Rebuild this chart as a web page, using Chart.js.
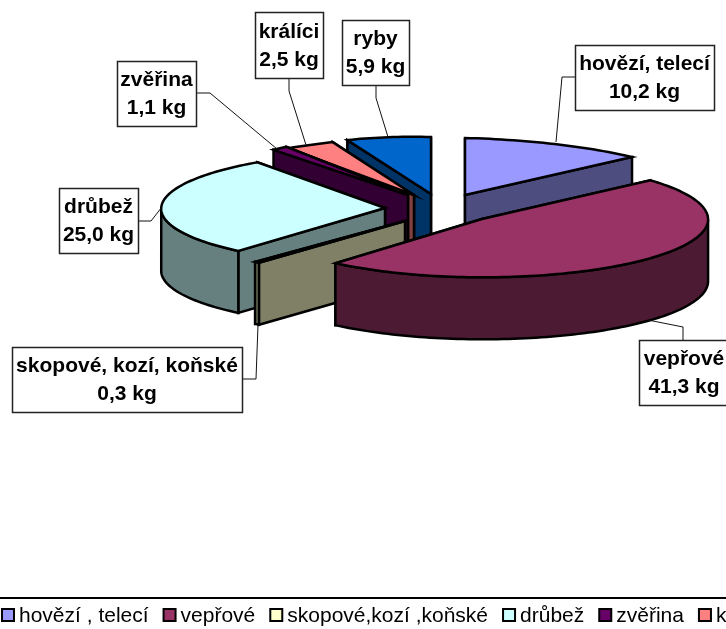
<!DOCTYPE html>
<html>
<head>
<meta charset="utf-8">
<script src="https://cdn.jsdelivr.net/npm/chart.js@4"></script>
<style>
  html, body { margin: 0; padding: 0; background: #fff; overflow: hidden; }
  canvas { display: block; }
</style>
</head>
<body>
<canvas id="chart" width="726" height="629"></canvas>
<script>
const legendNames = ['hovězí , telecí', 'vepřové', 'skopové,kozí ,koňské', 'drůbež', 'zvěřina', 'králíci', 'ryby'];
const labelNames = ['hovězí, telecí', 'vepřové', 'skopové, kozí, koňské', 'drůbež', 'zvěřina', 'králíci', 'ryby'];
const kilograms = [10.2, 41.3, 0.3, 25.0, 1.1, 2.5, 5.9];
const topColors = ['#9999FF', '#993366', '#FFFFCC', '#CCFFFF', '#660066', '#FF8080', '#0066CC'];
const sideColors = ['#4D4D80', '#4D1A33', '#808066', '#668080', '#330033', '#804040', '#003366'];

// how each flat slice is laid onto the tilted pie: apex x, y, then the 2x2 matrix a, c, b, d
const sliceFrames = [
  [465, 195, 247, 0, 6, 57],
  [482, 219, 225, -22, 6, 58],
  [405, 221, 227, -20, 6, 55],
  [385, 208, 223, -19, 4, 56],
  [408, 195, 206, 4, -1, 59.5],
  [414, 195, 263, -31, -4, 60],
  [431, 194, 201, 0, 5, 57],
];
const paintOrder = [6, 5, 4, 3, 2, 0, 1];
const pieDepth = 62;

// label boxes: x, y, w, h and the leader line that runs to the slice
const labelBoxes = [
  { box: [575, 45, 139, 65], leader: [[576, 77], [562, 77], [556, 142]] },
  { box: [639, 340, 90, 65], leader: [[683, 340], [683, 327], [648, 320]] },
  { box: [12, 347, 230, 65], leader: [[242, 379], [256, 379], [258, 325]] },
  { box: [59, 188, 79, 65], leader: [[138, 221], [151, 221], [162, 207]] },
  { box: [117, 61, 79, 65], leader: [[196, 93], [210, 93], [277, 149]] },
  { box: [255, 12, 68, 66], leader: [[289, 78], [289, 91], [306, 145]] },
  { box: [342, 20, 67, 65], leader: [[376, 85], [376, 98], [388, 137]] },
];

const labelFont = 'bold 21px "Liberation Sans", Arial, sans-serif';
const legendFont = '21px "Liberation Sans", Arial, sans-serif';

// helper to read a point on the rim of a slice
const rimPoint = (frame, t, drop) => {
  const [x, y, a, c, b, d] = frame;
  return [x + a * Math.cos(t) + c * Math.sin(t), y + b * Math.cos(t) + d * Math.sin(t) + drop];
};

const tracePath = (ctx, points, close) => {
  ctx.beginPath();
  points.forEach((p, i) => (i ? ctx.lineTo(p[0], p[1]) : ctx.moveTo(p[0], p[1])));
  if (close) ctx.closePath();
};

const rimSamples = (frame, start, end, drop) => {
  const pts = [];
  const steps = Math.max(4, Math.ceil((end - start) * 40));
  for (let i = 0; i <= steps; i++) {
    pts.push(rimPoint(frame, start + ((end - start) * i) / steps, drop));
  }
  return pts;
};

const tiltedPie = {
  id: 'tiltedPie',
  beforeDatasetsDraw(chart) {
    const ctx = chart.ctx;
    const arcs = chart.getDatasetMeta(0).data;
    ctx.save();
    ctx.lineWidth = 2.5;
    ctx.lineJoin = 'miter';
    ctx.strokeStyle = '#000';

    paintOrder.forEach(i => {
      const arc = arcs[i];
      const frame = sliceFrames[i];
      const [x, y, a, c, b, d] = frame;
      const R = arc.outerRadius;
      const apex = [x, y];
      const p0 = rimPoint(frame, arc.startAngle, 0);
      const p1 = rimPoint(frame, arc.endAngle, 0);

      // the two cut faces, farther one first
      ctx.fillStyle = sideColors[i];
      [p0, p1].sort((m, n) => m[1] - n[1]).forEach(p => {
        tracePath(ctx, [apex, p, [p[0], p[1] + pieDepth], [x, y + pieDepth]], true);
        ctx.fill();
        ctx.stroke();
      });

      // outer wall, only the part that faces the viewer
      const front = [];
      const steps = Math.ceil((arc.endAngle - arc.startAngle) * 40) + 1;
      for (let s = 0; s <= steps; s++) {
        const t = arc.startAngle + ((arc.endAngle - arc.startAngle) * s) / steps;
        if (-a * Math.sin(t) + c * Math.cos(t) < 0) front.push(t);
      }
      if (front.length > 1) {
        const from = front[0];
        const to = front[front.length - 1];
        const wall = rimSamples(frame, from, to, 0).concat(rimSamples(frame, from, to, pieDepth).reverse());
        tracePath(ctx, wall, true);
        ctx.fill();
        ctx.stroke();
      }

      // top face, the library's own arc under the tilt
      ctx.save();
      ctx.translate(x, y);
      ctx.transform(a / R, b / R, c / R, d / R, 0, 0);
      ctx.translate(-arc.x, -arc.y);
      arc.draw(ctx);
      ctx.restore();

      const outline = [apex].concat(rimSamples(frame, arc.startAngle, arc.endAngle, 0));
      tracePath(ctx, outline, true);
      ctx.stroke();
    });

    ctx.restore();
    return false;
  },
  afterDraw(chart) {
    const ctx = chart.ctx;
    ctx.save();

    // leader lines and label boxes
    labelBoxes.forEach((item, i) => {
      ctx.strokeStyle = '#111';
      ctx.lineWidth = 1;
      tracePath(ctx, item.leader, false);
      ctx.stroke();

      const [bx, by, bw, bh] = item.box;
      ctx.fillStyle = '#fff';
      ctx.fillRect(bx, by, bw, bh);
      ctx.strokeStyle = '#222';
      ctx.lineWidth = 1.5;
      ctx.strokeRect(bx + 0.5, by + 0.5, bw, bh);

      ctx.fillStyle = '#000';
      ctx.font = labelFont;
      ctx.textAlign = 'center';
      ctx.textBaseline = 'alphabetic';
      const mid = bx + bw / 2;
      ctx.fillText(labelNames[i], mid, by + bh - 40);
      ctx.fillText(kilograms[i].toFixed(1).replace('.', ',') + ' kg', mid, by + bh - 12);
    });

    // legend strip along the bottom, runs off the right edge like the original
    ctx.strokeStyle = '#000';
    ctx.lineWidth = 2;
    ctx.beginPath();
    ctx.moveTo(0, 598);
    ctx.lineTo(726, 598);
    ctx.stroke();

    ctx.font = legendFont;
    ctx.textAlign = 'left';
    let x = 2;
    legendNames.forEach((name, i) => {
      if (x > 726) return;
      ctx.fillStyle = topColors[i];
      ctx.fillRect(x, 609, 12, 12);
      ctx.strokeStyle = '#000';
      ctx.strokeRect(x, 609, 12, 12);
      ctx.fillStyle = '#000';
      ctx.fillText(name, x + 17, 622);
      x += 17 + ctx.measureText(name).width + 15;
    });

    ctx.restore();
  },
};

new Chart(document.getElementById('chart'), {
  type: 'pie',
  data: {
    labels: legendNames,
    datasets: [
      {
        data: kilograms,
        backgroundColor: topColors,
        borderWidth: 0,
      },
    ],
  },
  options: {
    responsive: false,
    animation: false,
    plugins: {
      legend: { display: false },
      tooltip: { enabled: false },
    },
  },
  plugins: [tiltedPie],
});
</script>
</body>
</html>
